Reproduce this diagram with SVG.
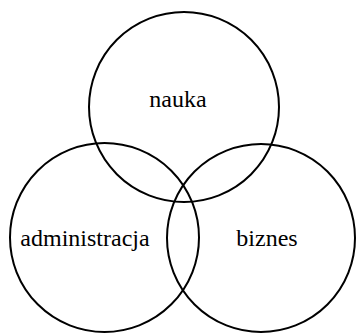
<svg xmlns="http://www.w3.org/2000/svg" width="356" height="333" viewBox="0 0 356 333">
<style>
.c{fill:none;stroke:#000;stroke-width:2}
.t{font-family:"Liberation Serif","Times New Roman",serif;font-size:24px;fill:#000;text-anchor:middle}
</style>
<rect width="356" height="333" fill="#fff"/>
<g id="nauka"><circle class="c" cx="184" cy="107" r="95"/><text class="t" x="178" y="107">nauka</text></g>
<g id="administracja"><circle class="c" cx="104.5" cy="237.5" r="94.5"/><text class="t" x="85" y="246">administracja</text></g>
<g id="biznes"><circle class="c" cx="261" cy="238" r="94"/><text class="t" x="267" y="246">biznes</text></g>
<g id="connectors"></g>
</svg>
